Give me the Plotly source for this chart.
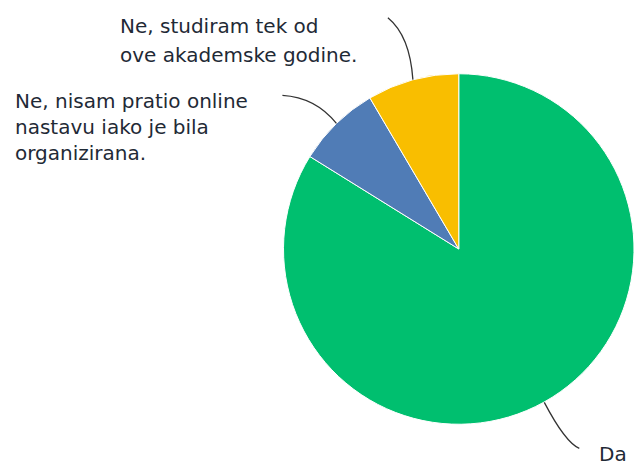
import math
import plotly.graph_objects as go

labels = ["Da", "Ne, nisam pratio online nastavu iako je bila organizirana.",
          "Ne, studiram tek od ove akademske godine."]
label_lines = [["Da"],
               ["Ne, nisam pratio online", "nastavu iako je bila", "organizirana."],
               ["Ne, studiram tek od", "ove akademske godine."]]
values = [109, 10, 11]
colors = ["#00BF6F", "#507CB6", "#F9BE00"]

W, H = 634, 468
cx, cy, R = 459, 249, 175.5

def px(x, y):
    return x / W, 1 - y / H

fig = go.Figure(go.Pie(
    labels=labels, values=values, sort=False, direction="clockwise", rotation=0,
    marker=dict(colors=colors, line=dict(color="white", width=1)),
    textinfo="none", hoverinfo="label+percent", showlegend=False,
    domain=dict(x=[(cx - R) / W, min(1, (cx + R) / W)],
                y=[1 - (cy + R) / H, 1 - (cy - R) / H]),
))

# leader anchors at slice midpoints on the pie edge
total = sum(values)
mids = []
acc = 0
for v in values:
    mid = (acc + v / 2) / total * 2 * math.pi
    mids.append((cx + R * math.sin(mid), cy - R * math.cos(mid)))
    acc += v

# (control offset, end offset) per leader in px, relative to anchor
leader_geom = [((21, 40), (35, 46)), ((-21, -26), (-54, -28)), ((-3, -44), (-25, -62))]
shapes = []
for (ax, ay), ((c1x, c1y), (ex, ey)) in zip(mids, leader_geom):
    p0 = px(ax, ay)
    pc = px(ax + c1x, ay + c1y)
    pe = px(ax + ex, ay + ey)
    shapes.append(dict(type="path", xref="paper", yref="paper",
                       path=f"M {p0[0]},{p0[1]} Q {pc[0]},{pc[1]} {pe[0]},{pe[1]}",
                       line=dict(color="#333333", width=1.3)))

# label block: (left x, top y of first line, line spacing) in px
text_pos = [(597, 440, 26), (13, 87, 26), (118, 12, 29)]
font = dict(family="DejaVu Sans", size=20, color="#1f2a36")
annotations = []
for lines, (x, y, dy) in zip(label_lines, text_pos):
    for i, line in enumerate(lines):
        annotations.append(dict(text=line, x=x / W, y=1 - (y + i * dy) / H,
                                xref="paper", yref="paper",
                                xanchor="left", yanchor="top", align="left",
                                showarrow=False, font=font))

fig.update_layout(width=W, height=H, margin=dict(l=0, r=0, t=0, b=0),
                  paper_bgcolor="white", plot_bgcolor="white",
                  shapes=shapes, annotations=annotations)
fig.write_html("out.html", config={"displayModeBar": False},
               post_script="document.body.style.margin='0';document.body.style.overflow='hidden';")
